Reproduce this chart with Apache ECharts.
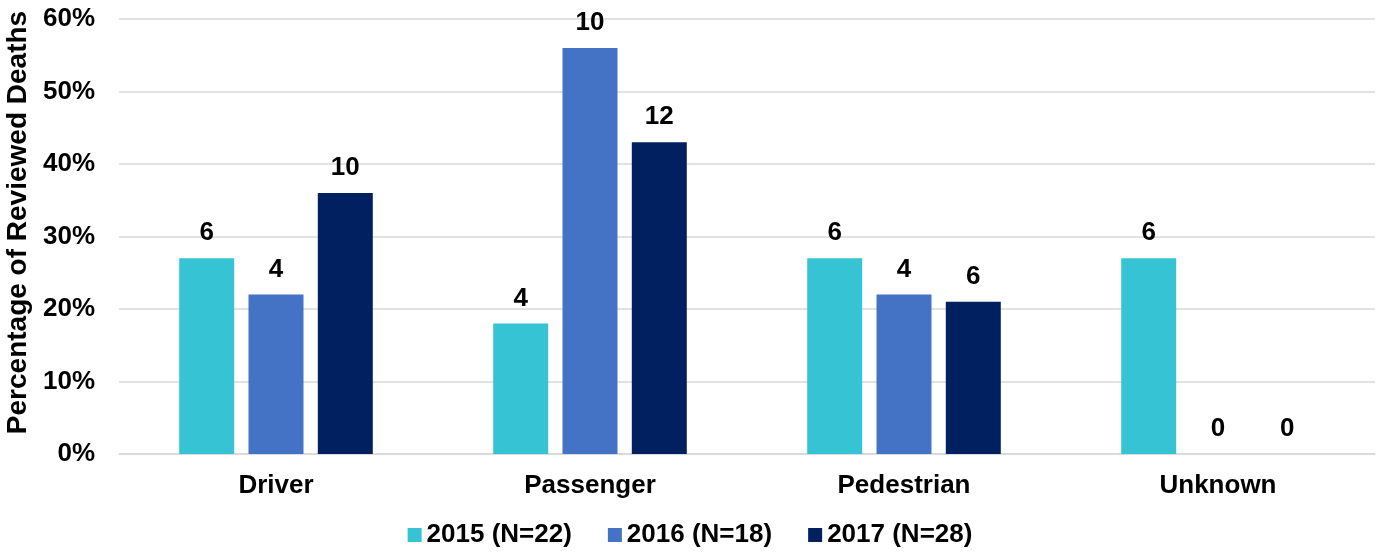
<!DOCTYPE html>
<html>
<head>
<meta charset="utf-8">
<script src="https://cdn.jsdelivr.net/npm/echarts@6/dist/echarts.min.js"></script>
<style>
  html, body { margin: 0; padding: 0; background: #fff; }
  #chart { width: 1380px; height: 554px; }
</style>
</head>
<body>
<div id="chart"></div>
<script>
const categories = ['Driver', 'Passenger', 'Pedestrian', 'Unknown']
const seriesNames = ['2015 (N=22)', '2016 (N=18)', '2017 (N=28)']
// percentage of reviewed deaths
const pct2015 = [27, 18, 27, 27]
const pct2016 = [22, 56, 22, 0]
const pct2017 = [36, 43, 21, 0]
// counts shown above the bars
const count2015 = [6, 4, 6, 6]
const count2016 = [4, 10, 4, 0]
const count2017 = [10, 12, 6, 0]
const yTicks = [0, 10, 20, 30, 40, 50, 60]

const colors = ['#36C3D4', '#4472C4', '#002060']
const font = 'Liberation Sans, Arial, sans-serif'

const chart = echarts.init(document.getElementById('chart'))

function makeSeries(i, pct, counts) {
  return {
    name: seriesNames[i],
    type: 'bar',
    data: pct,
    barWidth: 55,
    barGap: '26%',
    itemStyle: { color: colors[i] },
    label: {
      show: true,
      position: 'top',
      distance: 12,
      color: '#000',
      fontFamily: font,
      fontWeight: 'bold',
      fontSize: 26,
      formatter: p => String(counts[p.dataIndex])
    }
  }
}

chart.setOption({
  backgroundColor: '#fff',
  animation: false,
  color: colors,
  grid: { left: 119, right: 5, top: 19, bottom: 100, containLabel: false, outerBoundsMode: 'none' },
  legend: {
    bottom: 1,
    left: 'center',
    itemWidth: 14,
    itemHeight: 14,
    itemGap: 36,
    icon: 'rect',
    textStyle: { color: '#000', fontFamily: font, fontWeight: 'bold', fontSize: 26 },
    data: seriesNames
  },
  xAxis: {
    type: 'category',
    data: categories,
    axisTick: { show: false },
    axisLine: { lineStyle: { color: '#d9d9d9', width: 1.5 } },
    axisLabel: { color: '#000', fontFamily: font, fontWeight: 'bold', fontSize: 26, margin: 19 }
  },
  yAxis: {
    type: 'value',
    min: yTicks[0],
    max: yTicks[yTicks.length - 1],
    interval: 10,
    name: 'Percentage of Reviewed Deaths',
    nameLocation: 'middle',
    nameGap: 80,
    nameTextStyle: { color: '#000', fontFamily: font, fontWeight: 'bold', fontSize: 28, padding: [0, 0, 0, 28] },
    axisLine: { show: false },
    axisTick: { show: false },
    axisLabel: { color: '#000', fontFamily: font, fontWeight: 'bold', fontSize: 26, margin: 24, formatter: '{value}%' },
    splitLine: { lineStyle: { color: '#d9d9d9', width: 1.5 } }
  },
  series: [
    makeSeries(0, pct2015, count2015),
    makeSeries(1, pct2016, count2016),
    makeSeries(2, pct2017, count2017)
  ]
})
</script>
</body>
</html>
